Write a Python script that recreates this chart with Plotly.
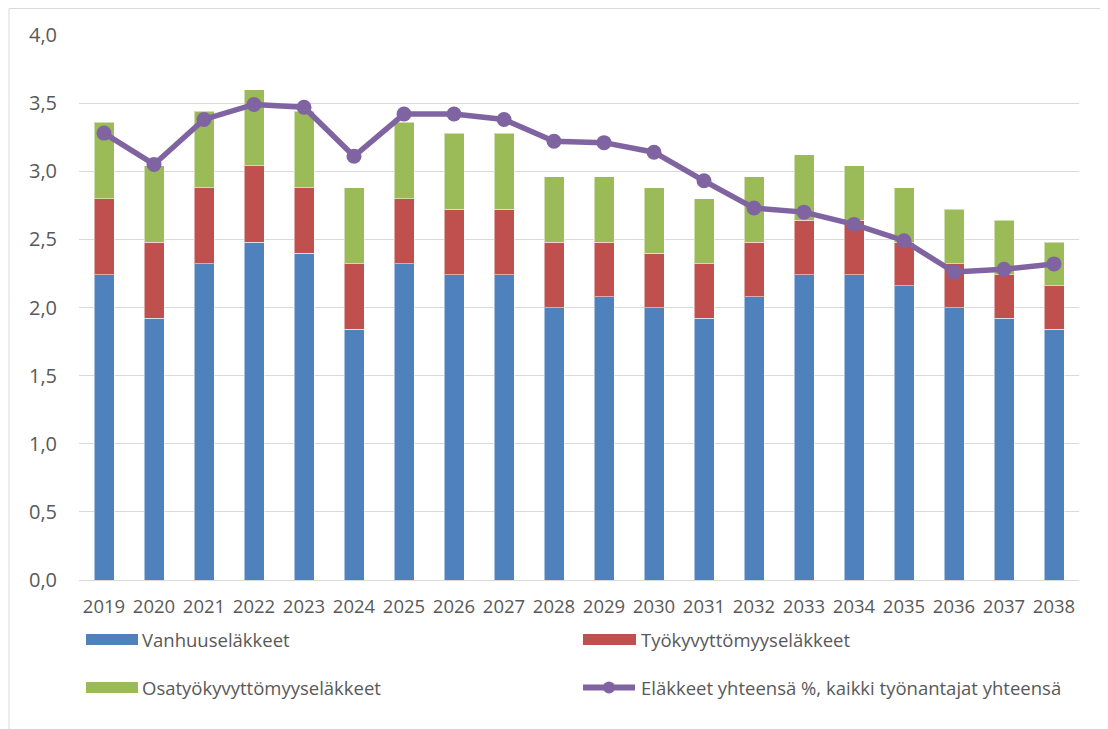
import plotly.graph_objects as go

years = [str(y) for y in range(2019, 2039)]
vanhuus = [2.24, 1.92, 2.32, 2.48, 2.40, 1.84, 2.32, 2.24, 2.24, 2.00,
           2.08, 2.00, 1.92, 2.08, 2.24, 2.24, 2.16, 2.00, 1.92, 1.84]
tyokyvyttomyys = [0.56, 0.56, 0.56, 0.56, 0.48, 0.48, 0.48, 0.48, 0.48, 0.48,
                  0.40, 0.40, 0.40, 0.40, 0.40, 0.40, 0.32, 0.32, 0.32, 0.32]
osatyokyvyttomyys = [0.56, 0.56, 0.56, 0.56, 0.56, 0.56, 0.56, 0.56, 0.56, 0.48,
                     0.48, 0.48, 0.48, 0.48, 0.48, 0.40, 0.40, 0.40, 0.40, 0.32]
yhteensa = [3.28, 3.05, 3.38, 3.49, 3.47, 3.11, 3.42, 3.42, 3.38, 3.22,
            3.21, 3.14, 2.93, 2.73, 2.70, 2.61, 2.49, 2.26, 2.28, 2.32]

names = ["Vanhuuseläkkeet", "Työkyvyttömyyseläkkeet", "Osatyökyvyttömyyseläkkeet",
         "Eläkkeet yhteensä %, kaikki työnantajat yhteensä"]
BLUE, RED, GREEN, PURPLE = "#4F81BD", "#C0504D", "#9BBB59", "#8064A2"
FONT = "Open Sans"
TXT = "#595959"
FS = 18.5

fig = go.Figure()
for vals, nm, col in [(vanhuus, names[0], BLUE), (tyokyvyttomyys, names[1], RED),
                      (osatyokyvyttomyys, names[2], GREEN)]:
    fig.add_trace(go.Bar(x=years, y=vals, name=nm, marker_color=col,
                         marker_line=dict(color="rgba(255,255,255,0.5)", width=1),
                         showlegend=False))
fig.add_trace(go.Scatter(x=years, y=yhteensa, name=names[3], mode="lines+markers",
                         line=dict(color=PURPLE, width=5.5),
                         marker=dict(color=PURPLE, size=15), showlegend=False))

# page body has an 8px margin: work in page pixels and shift by OFF
OFF = 8
W, H = 1108 - OFF, 729 - OFF
L, R, T, B = 79 - OFF, 1079 - OFF, 35 - OFF, 580 - OFF


def px(x):
    return (x - OFF - L) / (R - L)


def py(y):
    return (B - (y - OFF)) / (B - T)


shapes = [
    dict(type="rect", xref="paper", yref="paper", x0=px(9), x1=px(1107.5),
         y0=py(760), y1=py(8.5), line=dict(color="#d9d9d9", width=1), layer="below"),
    dict(type="rect", xref="paper", yref="paper", x0=px(86), x1=px(138),
         y0=py(645), y1=py(634), fillcolor=BLUE, line_width=0),
    dict(type="rect", xref="paper", yref="paper", x0=px(86), x1=px(138),
         y0=py(693), y1=py(682), fillcolor=GREEN, line_width=0),
    dict(type="rect", xref="paper", yref="paper", x0=px(583), x1=px(636),
         y0=py(645), y1=py(634), fillcolor=RED, line_width=0),
    dict(type="line", xref="paper", yref="paper", x0=px(583), x1=px(635),
         y0=py(687.5), y1=py(687.5), line=dict(color=PURPLE, width=6)),
    dict(type="circle", xref="paper", yref="paper", xsizemode="pixel", ysizemode="pixel",
         xanchor=px(609), yanchor=py(687.5), x0=-6, x1=6, y0=-6, y1=6,
         fillcolor=PURPLE, line_width=0),
]
annotations = [
    dict(text=names[0], x=px(140), y=py(639.5)),
    dict(text=names[1], x=px(639), y=py(639.5)),
    dict(text=names[2], x=px(140), y=py(687.5)),
    dict(text=names[3], x=px(639), y=py(687.5)),
]
for a in annotations:
    a.update(xref="paper", yref="paper", xanchor="left", yanchor="middle",
             showarrow=False, font=dict(family=FONT, size=FS, color=TXT))

fig.update_layout(
    width=W, height=H,
    margin=dict(l=L, r=W - R, t=T, b=H - B, pad=0),
    barmode="stack", bargap=0.6,
    plot_bgcolor="white", paper_bgcolor="white",
    separators=", ",
    font=dict(family=FONT, size=FS, color=TXT),
    shapes=shapes, annotations=annotations,
    xaxis=dict(type="category", range=[-0.5, len(years) - 0.5], showgrid=False,
               showline=True, linecolor="#d9d9d9", linewidth=1, ticks="",
               tickangle=0, ticklabelstandoff=10,
               tickfont=dict(family=FONT, size=FS, color=TXT)),
    yaxis=dict(range=[0, 4], dtick=0.5, tickformat=".1f", showgrid=True,
               gridcolor="#d9d9d9", gridwidth=1, zeroline=False, showline=False,
               ticks="", ticklabelstandoff=21,
               tickfont=dict(family=FONT, size=20, color=TXT)),
)

fig.write_html("out.html")
